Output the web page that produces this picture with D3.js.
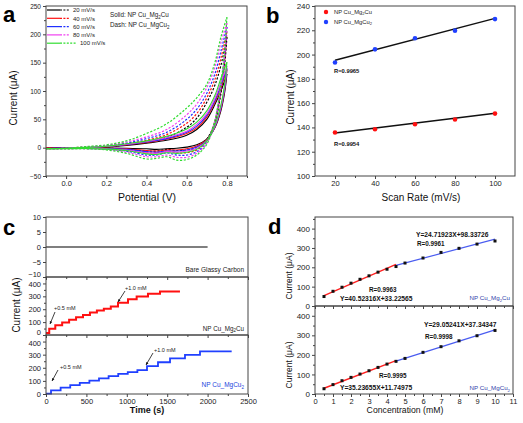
<!DOCTYPE html>
<html><head><meta charset="utf-8">
<script src="https://cdn.jsdelivr.net/npm/d3@7"></script>
<style>body{margin:0;background:#fff} svg{display:block}</style>
</head><body><svg id="chart" width="523" height="423"></svg>
<script>
// ---------- Panel a: cyclic voltammograms ----------
const scanRateLabels = ["20 mV/s","40 mV/s","60 mV/s","80 mV/s","100 mV/s"];
const cvPotFwd = [-0.1,0,0.1,0.2,0.3,0.4,0.5,0.6,0.65,0.7,0.74,0.77,0.8];
const cvPotRev = [0.8,0.79,0.77,0.74,0.7,0.65,0.6,0.55,0.5,0.45,0.4,0.3,0.2,0.1,0,-0.1];
const solidFwd = [
  [-1,-0.5,0,1,4,8,13,22,32,50,76,100,130],
  [-1,-0.5,0,1.5,5,9,15,25,35,54,80,106,138],
  [-1.5,-1,0,2,5.5,10,16,27,38,57,83,110,140],
  [-2,-1,0,2,6,11,18,29,41,60,87,115,144],
  [-2,-1,0.5,2.5,7,12,20,33,45,65,92,122,151]
];
const solidRev = [
  [130,100,65,35,15,5,1,-1,-2,-3,-2,-1,-0.5,-0.5,-0.5,-1],
  [138,105,68,36,14,3,-2,-4,-4,-6,-5,-2,-1,-0.5,-1,-1],
  [140,107,70,37,13,1,-4,-6,-6,-8,-7,-3,-1.5,-1,-1,-1.5],
  [144,110,72,38,12,-1,-6,-8,-7,-10,-9,-4,-2,-1,-1.5,-2],
  [151,115,75,40,12,-3,-8,-10,-9,-12,-11,-5,-2.5,-1.5,-2,-2]
];
const dashFwd = [
  [-1,-0.5,0.5,2,5,10,18,36,52,80,110,145,195],
  [-1,-0.5,1,3,7,13,23,43,60,88,120,158,205],
  [-1.5,-1,1,3.5,8,16,27,50,68,96,130,170,213],
  [-2,-1,1.5,4,10,19,32,58,77,106,142,185,220],
  [-2,-1,2,5,12,25,42,70,88,112,150,195,230]
];
const dashRev = [
  [195,150,95,45,15,0,-4,-5,-3,-6,-6,-3,-1,-0.5,-0.5,-1],
  [205,158,100,45,12,-4,-9,-9,-6,-9,-9,-5,-2,-1,-1,-1],
  [213,165,105,46,10,-7,-13,-13,-9,-13,-13,-6,-2.5,-1.5,-1.5,-1.5],
  [220,170,108,47,8,-10,-17,-17,-13,-16,-16,-8,-3,-2,-2,-2],
  [230,178,113,48,6,-13,-21,-22,-16,-19,-20,-10,-4,-2,-2,-2]
];
const cvColors = ["#000000","#ff1010","#1f2fff","#f040f0","#30dd30"];

// ---------- Panel b: peak current vs scan rate ----------
const scanRates = [20,40,60,80,100];
const peakMg2Cu = [135.8,138.5,142.6,146.5,151.4];
const peakMgCu2 = [193.5,204.3,213.4,219.7,229.2];
const fitScanEnds = [20,100];
const fitMg2CuB = [135.5,151.6];
const fitMgCu2B = [195.4,229.8];

// ---------- Panel c: amperometric responses ----------
const bareTime = [0,2000];
const bareCurrent = [0,0];
const redStepTimes = [0,40,115,200,286,372,458,544,630,716,802,891,1015,1122,1262,1411,1658];
const redStepLevels = [15,48,76,97,118,138,156,175,190,204,222,250,277,298,320,337,337];
const blueStepTimes = [0,62,181,300,418,537,656,775,894,1012,1131,1250,1386,1535,1720,1906,2298];
const blueStepLevels = [3,27,48,68,85,102,119,136,153,167,182,212,242,272,298,325,325];

// ---------- Panel d: calibration ----------
const concentrations = [0.5,1,1.5,2,2.5,3,3.5,4,4.5,5,6,7,8,9,10];
const calMg2Cu = [49,76,97,118,138,156,175,190,204,222,248,277,298,320,336];
const calMgCu2 = [27,48,68,85,102,119,136,153,167,182,213,242,272,298,325];
const lowRangeEnds = [0.5,4.5];
const highRangeEnds = [4.5,10];
const fitLowMg2Cu = [53.5,215.6];
const fitHighMg2Cu = [209.6,345.5];
const fitLowMgCu2 = [29.4,170.3];
const fitHighMgCu2 = [168.1,327.9];

// ================= drawing =================
const FONT = '"Liberation Sans", Arial, Helvetica, sans-serif';
const svg = d3.select("#chart");
const AX = "#444";

function styleAxis(a, fs) {
  a.select(".domain").remove();
  a.selectAll("line").attr("stroke", AX);
  a.selectAll("text").attr("font-size", fs).attr("fill", "#222").attr("font-family", FONT);
}
function leftAxis(y, x0, vals, minor, fmt, fs, nudge) {
  const a = svg.append("g").attr("transform", `translate(${x0},0)`)
    .call(d3.axisLeft(y).tickValues(vals).tickSize(3).tickPadding(2).tickFormat(fmt));
  styleAxis(a, fs);
  if (nudge) a.selectAll(".tick text").attr("dy", d => (nudge[d] !== undefined ? `${0.32 + nudge[d]}em` : "0.32em"));
  if (minor) {
    const m = svg.append("g").attr("transform", `translate(${x0},0)`)
      .call(d3.axisLeft(y).tickValues(minor).tickSize(2).tickFormat(""));
    styleAxis(m, fs);
  }
}
function bottomAxis(x, y0, vals, minor, fmt, fs) {
  const a = svg.append("g").attr("transform", `translate(0,${y0})`)
    .call(d3.axisBottom(x).tickValues(vals).tickSize(3).tickPadding(2).tickFormat(fmt));
  styleAxis(a, fs);
  if (minor) {
    const m = svg.append("g").attr("transform", `translate(0,${y0})`)
      .call(d3.axisBottom(x).tickValues(minor).tickSize(2).tickFormat(""));
    styleAxis(m, fs);
  }
}
function frame(x, y) {
  const [x0, x1] = x.range(), [y1, y0] = y.range();
  svg.append("rect").attr("x", x0).attr("y", y0).attr("width", x1 - x0).attr("height", y1 - y0)
    .attr("fill", "none").attr("stroke", AX).attr("stroke-width", 1);
}
function txt(x, y, s, fs, opts = {}) {
  const t = svg.append("text").attr("x", x).attr("y", y).attr("font-size", fs)
    .attr("font-family", FONT).attr("fill", opts.fill || "#222")
    .attr("text-anchor", opts.anchor || "start").attr("font-weight", opts.weight || "normal");
  if (opts.rotate) t.attr("transform", `rotate(-90,${x},${y})`);
  if (Array.isArray(s)) {
    s.forEach(p => {
      if (p.sub) t.append("tspan").attr("font-size", fs * 0.7).attr("dy", fs * 0.25).text(p.sub);
      else t.append("tspan").attr("dy", p.up ? -fs * 0.25 : 0).text(p.t);
    });
  } else t.text(s);
  return t;
}
const mg2cu = [{t:"NP Cu_Mg"},{sub:"2"},{t:"Cu", up:true}];
const mgcu2 = [{t:"NP Cu_MgCu"},{sub:"2"}];
function panelLetter(x, y, s) { txt(x, y, s, 22, {weight: "bold", fill: "#000"}); }

// ---------- Panel a ----------
{
  const x = d3.scaleLinear([-0.1, 0.9], [46, 247]);
  const y = d3.scaleLinear([-50, 250], [176, 6]);
  svg.append("clipPath").attr("id", "clipA").append("rect").attr("x", 46).attr("y", 6).attr("width", 201).attr("height", 170);
  const g = svg.append("g").attr("clip-path", "url(#clipA)");
  const line = d3.line().x(d => x(d[0])).y(d => y(d[1])).curve(d3.curveCatmullRom.alpha(0.5));
  for (let i = 0; i < 5; i++) {
    const sets = [
      [cvPotFwd, solidFwd[i], null], [cvPotRev, solidRev[i], null],
      [cvPotFwd, dashFwd[i], "2.2,1.6"], [cvPotRev, dashRev[i], "2.2,1.6"]
    ];
    sets.forEach(([px, cy, dash]) => {
      g.append("path").datum(px.map((p, k) => [p, cy[k]])).attr("d", line)
        .attr("fill", "none").attr("stroke", cvColors[i]).attr("stroke-width", dash ? 1.2 : 1.1)
        .attr("stroke-dasharray", dash);
    });
  }
  frame(x, y);
  leftAxis(y, 46, d3.range(-50, 251, 50), d3.range(-25, 250, 50), d3.format("d"), 6.5);
  bottomAxis(x, 176, [0, 0.2, 0.4, 0.6, 0.8], [-0.1, 0.1, 0.3, 0.5, 0.7, 0.9], d3.format(".1f"), 7.5);
  // legend
  scanRateLabels.forEach((lab, i) => {
    const ly = 10 + i * 8.3;
    svg.append("line").attr("x1", 47).attr("x2", 60).attr("y1", ly).attr("y2", ly).attr("stroke", cvColors[i]).attr("stroke-width", 1.2);
    svg.append("line").attr("x1", 60).attr("x2", i === 4 ? 76 : 70).attr("y1", ly).attr("y2", ly).attr("stroke", cvColors[i]).attr("stroke-width", 1.2).attr("stroke-dasharray", "2,1.4");
    txt(i === 4 ? 80 : 73, ly + 2.2, lab, 6, {fill: "#222"});
  });
  txt(110, 17, [{t:"Solid: "}].concat(mg2cu), 6.3);
  txt(110, 27, [{t:"Dash: "}].concat(mgcu2), 6.3);
  txt(16.5, 98, "Current (μA)", 10, {rotate: true, anchor: "middle", fill: "#111"});
  txt(147, 201, "Potential (V)", 10.5, {anchor: "middle", fill: "#111"});
  panelLetter(3, 22, "a");
}

// ---------- Panel b ----------
{
  const x = d3.scaleLinear([10, 110], [315, 515]);
  const y = d3.scaleLinear([100, 240], [176, 6]);
  frame(x, y);
  leftAxis(y, 315, d3.range(100, 241, 20), d3.range(110, 240, 20), d3.format("d"), 8);
  bottomAxis(x, 176, scanRates, [30, 50, 70, 90], d3.format("d"), 7.5);
  const line = d3.line().x(d => x(d[0])).y(d => y(d[1]));
  [fitMgCu2B, fitMg2CuB].forEach(f => {
    svg.append("path").datum(fitScanEnds.map((s, k) => [s, f[k]])).attr("d", line)
      .attr("stroke", "#111").attr("stroke-width", 1.5).attr("fill", "none");
  });
  [[peakMg2Cu, "#ff1010"], [peakMgCu2, "#2040ff"]].forEach(([vals, c]) => {
    svg.append("g").selectAll("circle").data(scanRates.map((s, k) => [s, vals[k]])).join("circle")
      .attr("cx", d => x(d[0])).attr("cy", d => y(d[1])).attr("r", 2.3).attr("fill", c);
  });
  svg.append("circle").attr("cx", 326).attr("cy", 12).attr("r", 2.2).attr("fill", "#ff1010");
  svg.append("circle").attr("cx", 326).attr("cy", 22).attr("r", 2.2).attr("fill", "#2040ff");
  txt(334, 14, mg2cu, 5.8);
  txt(334, 24, mgcu2, 5.8);
  txt(334, 73, "R=0.9965", 5.8, {weight: "bold", fill: "#111"});
  txt(334, 146, "R=0.9954", 5.8, {weight: "bold", fill: "#111"});
  txt(294, 97, "Current (μA)", 10, {rotate: true, anchor: "middle", fill: "#111"});
  txt(421, 201, "Scan Rate (mV/s)", 10, {anchor: "middle", fill: "#111"});
  panelLetter(266, 23, "b");
}

// ---------- Panel c ----------
{
  const x = d3.scaleLinear([0, 2500], [46, 248]);
  const y1 = d3.scaleLinear([-10, 10], [277, 217]);
  const y2 = d3.scaleLinear([0, 450], [335, 277]);
  const y3 = d3.scaleLinear([0, 450], [394, 335]);
  const xt = d3.range(0, 2501, 500), xm = d3.range(250, 2500, 500);
  const l1 = d3.line().x(d => x(d[0])).y(d => y1(d[1]));
  svg.append("path").datum(bareTime.map((t, k) => [t, bareCurrent[k]])).attr("d", l1)
    .attr("stroke", "#555").attr("stroke-width", 1.3).attr("fill", "none");
  const l2 = d3.line().x(d => x(d[0])).y(d => y2(d[1])).curve(d3.curveStepAfter);
  svg.append("path").datum(redStepTimes.map((t, k) => [t, redStepLevels[k]])).attr("d", l2)
    .attr("stroke", "#ff1010").attr("stroke-width", 2).attr("fill", "none");
  const l3 = d3.line().x(d => x(d[0])).y(d => y3(d[1])).curve(d3.curveStepAfter);
  svg.append("path").datum(blueStepTimes.map((t, k) => [t, blueStepLevels[k]])).attr("d", l3)
    .attr("stroke", "#2040ff").attr("stroke-width", 1.8).attr("fill", "none");
  [y1, y2, y3].forEach(yy => frame(x, yy));
  leftAxis(y1, 46, [-10, -5, 0, 5, 10], null, d3.format("d"), 7.5, {"-10": -0.35});
  leftAxis(y2, 46, [0, 100, 200, 300, 400], [50, 150, 250, 350], d3.format("d"), 7.5, {"400": 0.15, "0": -0.35});
  leftAxis(y3, 46, [0, 100, 200, 300, 400], [50, 150, 250, 350], d3.format("d"), 7.5, {"400": 0.15});
  bottomAxis(x, 277, xt, xm, () => "", 7.5);
  bottomAxis(x, 335, xt, xm, () => "", 7.5);
  bottomAxis(x, 394, xt, xm, d3.format("d"), 7.5);
  const arrow = (x1, yA, x2, yB) => {
    svg.append("line").attr("x1", x1).attr("y1", yA).attr("x2", x2).attr("y2", yB).attr("stroke", "#111").attr("stroke-width", 0.8);
    const ang = Math.atan2(yB - yA, x2 - x1);
    const hx = (a) => x2 - 3 * Math.cos(ang + a), hy = (a) => yB - 3 * Math.sin(ang + a);
    svg.append("path").attr("d", `M${x2},${yB}L${hx(0.45)},${hy(0.45)}L${hx(-0.45)},${hy(-0.45)}Z`).attr("fill", "#111");
  };
  arrow(55, 312, 50, 324); txt(54, 310, "+0.5 mM", 5.5, {fill: "#222"});
  arrow(125, 291, 118, 302); txt(125, 290, "+1.0 mM", 5.5, {fill: "#222"});
  arrow(58, 370, 52, 381); txt(60, 369, "+0.5 mM", 5.5, {fill: "#222"});
  arrow(153, 353, 146, 365); txt(154, 352, "+1.0 mM", 5.5, {fill: "#222"});
  txt(244, 271.5, "Bare Glassy Carbon", 6.5, {anchor: "end", fill: "#222"});
  txt(244, 330.5, mg2cu, 6.3, {anchor: "end", fill: "#222"});
  txt(244, 387, mgcu2, 6.5, {anchor: "end", fill: "#2244dd"});
  txt(20, 305, "Current (μA)", 10, {rotate: true, anchor: "middle", fill: "#111"});
  txt(147, 413, "Time (s)", 9, {anchor: "middle", fill: "#111", weight: "bold"});
  panelLetter(3, 235, "c");
}

// ---------- Panel d ----------
{
  const x = d3.scaleLinear([0, 11], [315, 513]);
  const y1 = d3.scaleLinear([0, 460], [306, 217]);
  const y2 = d3.scaleLinear([0, 450], [394, 306]);
  const xMinor = d3.range(0.5, 11, 1);
  frame(x, y1); frame(x, y2);
  leftAxis(y1, 315, [0, 100, 200, 300, 400], [50, 150, 250, 350, 450], d3.format("d"), 8);
  leftAxis(y2, 315, [0, 100, 200, 300, 400], [50, 150, 250, 350], d3.format("d"), 8);
  bottomAxis(x, 306, d3.range(0, 12), xMinor, () => "", 7.5);
  bottomAxis(x, 394, d3.range(0, 12), xMinor, d3.format("d"), 7.5);
  [[y1, fitLowMg2Cu, fitHighMg2Cu, calMg2Cu], [y2, fitLowMgCu2, fitHighMgCu2, calMgCu2]].forEach(([yy, lo, hi, cal]) => {
    const l = d3.line().x(d => x(d[0])).y(d => yy(d[1]));
    svg.append("path").datum(lowRangeEnds.map((c, k) => [c, lo[k]])).attr("d", l).attr("stroke", "#ff2020").attr("stroke-width", 1.4).attr("fill", "none");
    svg.append("path").datum(highRangeEnds.map((c, k) => [c, hi[k]])).attr("d", l).attr("stroke", "#4a5cf0").attr("stroke-width", 1.2).attr("fill", "none");
    svg.append("g").selectAll("rect").data(concentrations.map((c, k) => [c, cal[k]])).join("rect")
      .attr("x", d => x(d[0]) - 1.5).attr("y", d => yy(d[1]) - 1.5).attr("width", 3).attr("height", 3).attr("fill", "#111");
  });
  txt(416, 236.5, "Y=24.71923X+98.33726", 6.7, {weight: "bold", fill: "#111"});
  txt(417, 246, "R=0.9961", 6.3, {weight: "bold", fill: "#111"});
  txt(369, 291.5, "R=0.9963", 6.3, {weight: "bold", fill: "#111"});
  txt(340, 301, "Y=40.52316X+33.22565", 6.7, {weight: "bold", fill: "#111"});
  txt(510, 300, mg2cu, 6.2, {anchor: "end", fill: "#3344aa"});
  txt(424, 327, "Y=29.05241X+37.34347", 6.7, {weight: "bold", fill: "#111"});
  txt(425, 338.5, "R=0.9998", 6.3, {weight: "bold", fill: "#111"});
  txt(379, 378, "R=0.9995", 6.3, {weight: "bold", fill: "#111"});
  txt(340, 390, "Y=35.23655X+11.74975", 6.7, {weight: "bold", fill: "#111"});
  txt(510, 390, mgcu2, 6.2, {anchor: "end", fill: "#3344aa"});
  txt(292, 276, "Current (μA)", 8.5, {rotate: true, anchor: "middle", fill: "#111"});
  txt(292, 365, "Current (μA)", 8.5, {rotate: true, anchor: "middle", fill: "#111"});
  txt(405, 413, "Concentration (mM)", 8.7, {anchor: "middle", fill: "#111"});
  panelLetter(268, 234, "d");
}
</script></body></html>
